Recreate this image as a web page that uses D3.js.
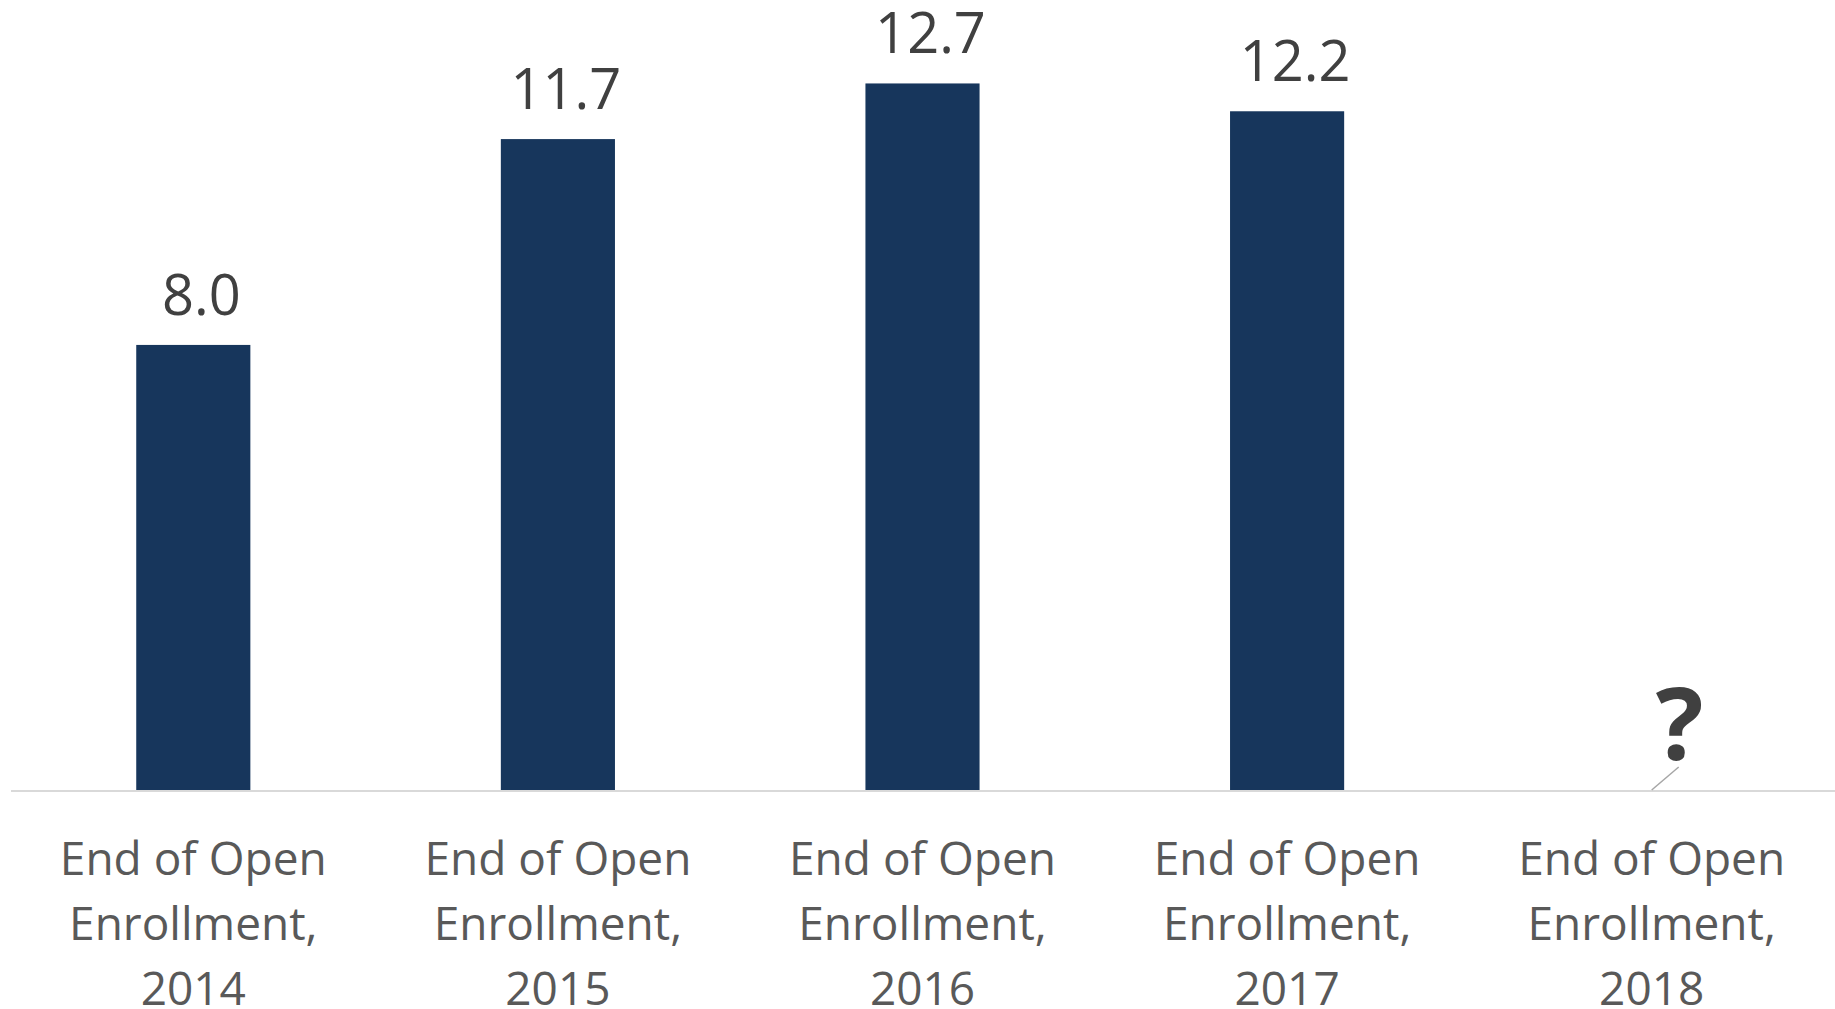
<!DOCTYPE html>
<html>
<head>
<meta charset="utf-8">
<script src="https://cdn.jsdelivr.net/npm/d3@7"></script>
<style>
  html, body { margin: 0; padding: 0; background: #ffffff; }
  svg { display: block; }
</style>
</head>
<body>
<script>
// Enrollment at the end of each open enrollment period (millions)
const years = ["2014", "2015", "2016", "2017", "2018"];
const categoryLines = ["End of Open", "Enrollment,"];
const enrollment = [8.0, 11.7, 12.7, 12.2, null];
const valueLabels = ["8.0", "11.7", "12.7", "12.2", "?"];

const width = 1835, height = 1009;
const baseline = 790;

const svg = d3.select("body").append("svg")
  .attr("width", width)
  .attr("height", height);

const x = d3.scaleBand()
  .domain(years)
  .range([11, 1834])
  .paddingInner(0.687)
  .paddingOuter(0.3435);

const y = d3.scaleLinear()
  .domain([0, 14.2])
  .range([baseline, 0]);

const data = years.map((yr, i) => ({ year: yr, value: enrollment[i], label: valueLabels[i] }));

// Bars
svg.append("g")
  .selectAll("rect")
  .data(data.filter(d => d.value != null))
  .join("rect")
  .attr("x", d => x(d.year))
  .attr("y", d => y(d.value))
  .attr("width", x.bandwidth())
  .attr("height", d => y(0) - y(d.value))
  .attr("fill", "#17365c");

// Category axis
const axis = svg.append("g")
  .attr("transform", `translate(0,${baseline})`)
  .call(d3.axisBottom(x).tickSize(0).tickFormat(""));
axis.select(".domain")
  .attr("stroke", "#d9d9d9")
  .attr("stroke-width", 2)
  .attr("d", `M11,1H${width}`);

const cat = svg.append("g")
  .attr("font-family", "'Open Sans', sans-serif")
  .attr("font-size", 46)
  .attr("fill", "#595959")
  .attr("text-anchor", "middle");

data.forEach(d => {
  const t = cat.append("text")
    .attr("x", x(d.year) + x.bandwidth() / 2)
    .attr("y", 875);
  [...categoryLines, d.year].forEach((line, i) => {
    t.append("tspan")
      .attr("x", x(d.year) + x.bandwidth() / 2)
      .attr("dy", i === 0 ? 0 : 65)
      .text(line);
  });
});

// Value labels above bars
svg.append("g")
  .attr("font-family", "'Open Sans', sans-serif")
  .attr("font-size", 56)
  .attr("fill", "#404040")
  .attr("text-anchor", "middle")
  .selectAll("text")
  .data(data.filter(d => d.value != null))
  .join("text")
  .attr("x", d => x(d.year) + x.bandwidth() / 2 + 8)
  .attr("y", d => y(d.value) - 30)
  .text(d => d.label);

// Unknown 2018 value: a callout label with a leader line to the axis
const unknown = data.filter(d => d.value == null);
const cx = d => x(d.year) + x.bandwidth() / 2;
svg.append("g")
  .selectAll("line")
  .data(unknown)
  .join("line")
  .attr("x1", d => cx(d))
  .attr("y1", y(0))
  .attr("x2", d => cx(d) + 27)
  .attr("y2", y(0) - 23)
  .attr("stroke", "#a6a6a6")
  .attr("stroke-width", 1.5);

svg.append("g")
  .attr("font-family", "'Open Sans', sans-serif")
  .attr("font-size", 100)
  .attr("font-weight", "bold")
  .attr("fill", "#404040")
  .attr("text-anchor", "middle")
  .selectAll("text")
  .data(unknown)
  .join("text")
  .attr("x", d => cx(d) + 28)
  .attr("y", 760)
  .text(d => d.label);
</script>
</body>
</html>
